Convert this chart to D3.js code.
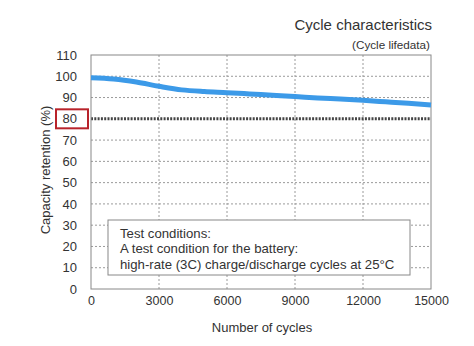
<!DOCTYPE html>
<html><head><meta charset="utf-8">
<script src="https://cdn.jsdelivr.net/npm/d3@7"></script>
<style>body{margin:0;background:#fff}svg{display:block;font-family:"Liberation Sans",Arial,sans-serif}</style>
</head><body><svg id="c" width="474" height="346"></svg>
<script>
const cycles = [0,1000,2000,3000,4000,5000,6000,7000,8000,9000,10000,11000,12000,13000,14000,15000];
const retention = [99.3,98.7,97.3,95.3,93.6,92.8,92.3,91.7,91.1,90.5,89.8,89.3,88.7,88.0,87.3,86.5];
const xTicks = [0,3000,6000,9000,12000,15000];
const yTicks = [0,10,20,30,40,50,60,70,80,90,100,110];
const threshold = 80;
const noteLines = ["Test conditions:","A test condition for the battery:","high-rate (3C) charge/discharge cycles at 25°C"];

const svg = d3.select("#c");
const x = d3.scaleLinear().domain([0,15000]).range([91,431]);
const y = d3.scaleLinear().domain([0,110]).range([289,55]);
const textCol = "#333";

// grid
svg.append("g").selectAll("line").data(yTicks.filter(d=>d>0&&d<110&&d!==threshold)).join("line")
  .attr("x1",x(0)).attr("x2",x(15000)).attr("y1",d=>y(d)).attr("y2",d=>y(d))
  .attr("stroke","#9a9a9a").attr("stroke-width",1).attr("stroke-dasharray","2,2");
svg.append("g").selectAll("line").data(xTicks.filter(d=>d>0&&d<15000)).join("line")
  .attr("y1",y(0)).attr("y2",y(110)).attr("x1",d=>x(d)).attr("x2",d=>x(d))
  .attr("stroke","#9a9a9a").attr("stroke-width",1).attr("stroke-dasharray","2,2");

// threshold line
svg.append("line").attr("x1",x(0)).attr("x2",x(15000)).attr("y1",y(threshold)).attr("y2",y(threshold))
  .attr("stroke","#444").attr("stroke-width",3).attr("stroke-dasharray","2,1.3");

// frame
svg.append("rect").attr("x",x(0)).attr("y",y(110)).attr("width",x(15000)-x(0)).attr("height",y(0)-y(110))
  .attr("fill","none").attr("stroke","#888").attr("stroke-width",1);

// axes
const yAxis = d3.axisLeft(y).tickValues(yTicks).tickSize(0).tickPadding(14);
const gy = svg.append("g").attr("transform",`translate(${x(0)},0)`).call(yAxis);
gy.select(".domain").remove();
gy.selectAll("text").attr("font-size",13).attr("fill",textCol).attr("font-family","Liberation Sans, Arial, sans-serif");

const xAxis = d3.axisBottom(x).tickValues(xTicks).tickSize(0).tickPadding(7).tickFormat(d3.format("d"));
const gx = svg.append("g").attr("transform",`translate(0,${y(0)})`).call(xAxis);
gx.select(".domain").remove();
gx.selectAll("text").attr("font-size",12.5).attr("fill",textCol).attr("font-family","Liberation Sans, Arial, sans-serif");

// red box around 80 label
svg.append("rect").attr("x",56).attr("y",y(threshold)-9.5).attr("width",32).attr("height",19)
  .attr("fill","none").attr("stroke","#b8232b").attr("stroke-width",2);

// curve
const line = d3.line().x((d,i)=>x(cycles[i])).y(d=>y(d)).curve(d3.curveMonotoneX);
svg.append("path").datum(retention).attr("d",line).attr("fill","none")
  .attr("stroke","#3c9ae8").attr("stroke-width",5);

// note box
svg.append("rect").attr("x",108).attr("y",220).attr("width",302).attr("height",55)
  .attr("fill","#fff").attr("stroke","#888").attr("stroke-width",1);
svg.append("g").selectAll("text").data(noteLines).join("text")
  .attr("x",120).attr("y",(d,i)=>237.5+i*15.7).attr("font-size",13.2).attr("fill",textCol).text(d=>d);

// titles
svg.append("text").attr("x",432).attr("y",30).attr("text-anchor","end").attr("font-size",15).attr("fill",textCol).text("Cycle characteristics");
svg.append("text").attr("x",430).attr("y",49).attr("text-anchor","end").attr("font-size",11.7).attr("fill",textCol).text("(Cycle lifedata)");
svg.append("text").attr("x",262).attr("y",332).attr("text-anchor","middle").attr("font-size",13).attr("fill",textCol).text("Number of cycles");
svg.append("text").attr("transform","translate(50,170) rotate(-90)").attr("text-anchor","middle").attr("font-size",13).attr("fill",textCol).text("Capacity retention (%)");
</script></body></html>
